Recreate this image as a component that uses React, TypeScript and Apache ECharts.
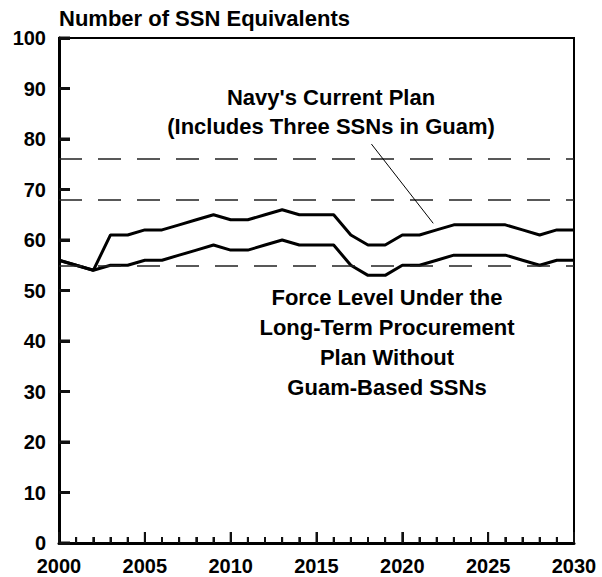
import React, { useEffect, useRef } from "react";
import * as echarts from "echarts";

const years = [
  2000, 2001, 2002, 2003, 2004, 2005, 2006, 2007, 2008, 2009, 2010, 2011, 2012, 2013, 2014, 2015,
  2016, 2017, 2018, 2019, 2020, 2021, 2022, 2023, 2024, 2025, 2026, 2027, 2028, 2029, 2030,
];
const navyPlan = [
  56, 55, 54, 61, 61, 62, 62, 63, 64, 65, 64, 64, 65, 66, 65, 65, 65, 61, 59, 59, 61, 61, 62, 63, 63,
  63, 63, 62, 61, 62, 62,
];
const withoutGuam = [
  56, 55, 54, 55, 55, 56, 56, 57, 58, 59, 58, 58, 59, 60, 59, 59, 59, 55, 53, 53, 55, 55, 56, 57, 57,
  57, 57, 56, 55, 56, 56,
];
const referenceLevels = [76, 68, 55];
const pointerFrom = [2018.2, 79];
const pointerTo = [2021.8, 63.3];
const yTickValues = [0, 10, 20, 30, 40, 50, 60, 70, 80, 90, 100];
const yTicks = { min: 0, max: 100, interval: 10 };
const xTicks = { min: 2000, max: 2030, interval: 5 };

const FONT = "'Liberation Sans', Arial, Helvetica, sans-serif";
const GRID = { left: 59, right: 28, top: 38, bottom: 34 };
const W = 602;
const H = 577;

export default function App() {
  const ref = useRef<HTMLDivElement>(null);
  useEffect(() => {
    if (!ref.current) return;
    const chart = echarts.init(ref.current, null, { renderer: "svg" });
    const pairs = (vals: number[]) => years.map((y, i) => [y, vals[i]]);
    const label = {
      color: "#000",
      fontFamily: FONT,
      fontWeight: "bold",
      fontSize: 20,
      margin: 13,
    };
    const texts: any[] = [
      {
        type: "text",
        left: 59,
        top: 7,
        style: {
          text: "Number of SSN Equivalents",
          fill: "#000",
          font: `bold 22px ${FONT}`,
        },
      },
      {
        type: "text",
        x: 331,
        y: 112,
        style: {
          text: "Navy's Current Plan\n(Includes Three SSNs in Guam)",
          fill: "#000",
          font: `bold 22px ${FONT}`,
          align: "center",
          verticalAlign: "middle",
          lineHeight: 29,
        },
      },
      {
        type: "text",
        x: 387,
        y: 342,
        style: {
          text: "Force Level Under the\nLong-Term Procurement\nPlan Without\nGuam-Based SSNs",
          fill: "#000",
          font: `bold 22px ${FONT}`,
          align: "center",
          verticalAlign: "middle",
          lineHeight: 30,
        },
      },
    ];
    chart.setOption({
      animation: false,
      grid: {
        ...GRID,
        show: true,
        borderColor: "#000",
        borderWidth: 2,
        backgroundColor: "rgba(0,0,0,0)",
      },
      xAxis: {
        type: "value",
        min: xTicks.min,
        max: xTicks.max,
        interval: xTicks.interval,
        axisLine: { show: true, onZero: false, lineStyle: { color: "#000", width: 3 } },
        axisTick: { show: true, inside: true, length: 11, lineStyle: { color: "#111", width: 2 } },
        minorTick: { show: true, splitNumber: 5, length: 6, lineStyle: { color: "#111", width: 2 } },
        splitLine: { show: false },
        minorSplitLine: { show: false },
        axisLabel: { ...label, formatter: (v: number) => String(v) },
      },
      yAxis: {
        type: "value",
        min: yTicks.min,
        max: yTicks.max,
        interval: yTicks.interval,
        axisLine: { show: true, onZero: false, lineStyle: { color: "#000", width: 3 } },
        axisTick: { show: true, inside: true, length: 11, lineStyle: { color: "#111", width: 3 } },
        splitLine: { show: false },
        axisLabel: label,
      },
      series: [
        {
          type: "line",
          data: pairs(withoutGuam),
          symbol: "none",
          lineStyle: { color: "#000", width: 3 },
          z: 3,
          markLine: {
            silent: true,
            symbol: ["none", "none"],
            label: { show: false },
            lineStyle: { color: "#222", width: 1.5, type: [23, 16] },
            data: referenceLevels.map((v) => ({ yAxis: v })),
          },
        },
        {
          type: "line",
          data: pairs(navyPlan),
          symbol: "none",
          lineStyle: { color: "#000", width: 3 },
          z: 3,
          markLine: {
            silent: true,
            symbol: ["none", "none"],
            label: { show: false },
            precision: 4,
            lineStyle: { color: "#000", width: 1, type: "solid" },
            data: [[{ coord: pointerFrom }, { coord: pointerTo }]],
          },
        },
      ],
      graphic: texts,
    });

    // Extra tick marks as filled rectangles, placed through the chart's scales.
    const tickRects: any[] = [];
    years.forEach((yr) => {
      const p = chart.convertToPixel({ gridIndex: 0 }, [yr, yTicks.min]) as any;
      if (!p || !isFinite(p[0]) || !isFinite(p[1])) return;
      const len = yr % xTicks.interval === 0 ? 11 : 6;
      tickRects.push({
        type: "rect",
        silent: true,
        z: 100,
        shape: { x: p[0] - 1, y: p[1] - len, width: 2, height: len },
        style: { fill: "#111" },
      });
    });
    yTickValues.forEach((v) => {
      const p = chart.convertToPixel({ gridIndex: 0 }, [xTicks.min, v]) as any;
      if (!p || !isFinite(p[0]) || !isFinite(p[1])) return;
      tickRects.push({
        type: "rect",
        silent: true,
        z: 100,
        shape: { x: p[0], y: p[1] - 1.5, width: 11, height: 3 },
        style: { fill: "#111" },
      });
    });
    chart.setOption({ graphic: [...texts, ...tickRects] });

    return () => chart.dispose();
  }, []);
  return (
    <div
      ref={ref}
      style={{ position: "fixed", left: 0, top: 0, width: W, height: H, background: "#fff" }}
    />
  );
}
